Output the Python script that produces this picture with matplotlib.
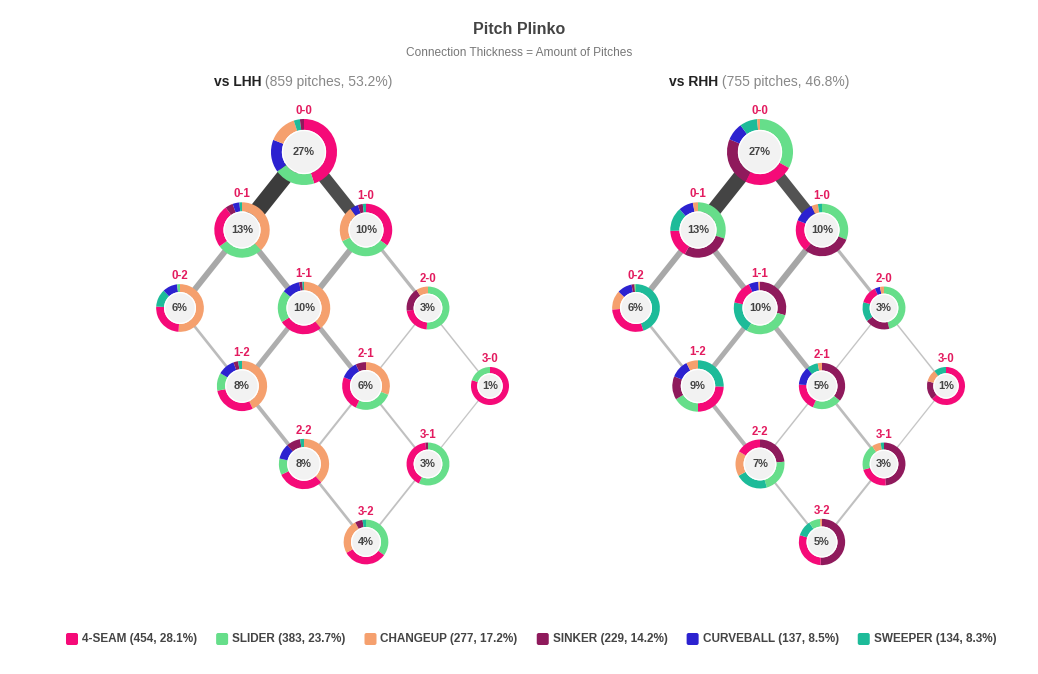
import matplotlib
matplotlib.use("Agg")
import matplotlib.pyplot as plt
from matplotlib.patches import Wedge, Circle, FancyBboxPatch
import numpy as np

plt.rcParams['font.family'] = ['Liberation Sans', 'DejaVu Sans']

# ---------------- data ----------------
pitch_types = ["4-SEAM", "SLIDER", "CHANGEUP", "SINKER", "CURVEBALL", "SWEEPER"]
pitch_counts = [454, 383, 277, 229, 137, 134]
pitch_pcts = [28.1, 23.7, 17.2, 14.2, 8.5, 8.3]
pitch_colors = ["#f50a78", "#66de8a", "#f5a06e", "#8f1a5c", "#2c22d0", "#1dbb99"]

ball_strike_counts = ["0-0", "0-1", "1-0", "0-2", "1-1", "2-0",
                      "1-2", "2-1", "3-0", "2-2", "3-1", "3-2"]

panel_names = ["vs LHH", "vs RHH"]
panel_pitches = [859, 755]
panel_shares = [53.2, 46.8]

lhh_node_pct = [27, 13, 10, 6, 10, 3, 8, 6, 1, 8, 3, 4]
rhh_node_pct = [27, 13, 10, 6, 10, 3, 9, 5, 1, 7, 3, 5]

# pitch mix per count, values in pitch_types order (percent of pitches in that count)
lhh_mix = {
    "0-0": [45, 20, 14, 2, 16, 3],
    "0-1": [25, 27, 38, 4.5, 4, 1.5],
    "1-0": [35, 33, 22, 3, 5, 2],
    "0-2": [25, 2, 51, 0, 10, 12],
    "1-1": [27, 20, 39, 2, 11, 1],
    "2-0": [22, 51, 9, 18, 0, 0],
    "1-2": [29, 11.5, 43, 3, 11, 2.5],
    "2-1": [24, 26, 31, 7, 12, 0],
    "3-0": [80, 20, 0, 0, 0, 0],
    "2-2": [30, 10.5, 38, 9, 10, 2.5],
    "3-1": [41, 57, 0, 2, 0, 0],
    "3-2": [32, 35, 25, 5.5, 0, 2.5],
}
rhh_mix = {
    "0-0": [24.2, 33, 1.4, 24, 8.7, 8.6],
    "0-1": [16.5, 30, 3, 28, 8.5, 14],
    "1-0": [20, 31, 4, 30, 12.5, 2.5],
    "0-2": [29, 1, 13, 2, 10, 45],
    "1-1": [14.6, 29, 1, 29.5, 6, 20],
    "2-0": [13.6, 46, 3, 18.6, 4, 14.7],
    "1-2": [24.5, 16.4, 7.4, 14.7, 11.5, 25.5],
    "2-1": [19.5, 20.5, 3, 36, 13, 8],
    "3-0": [63, 0, 10.6, 16, 0, 10.4],
    "2-2": [16.4, 22, 16.6, 23.5, 0, 21.5],
    "3-1": [22, 20, 6.8, 48.7, 0, 2.5],
    "3-2": [28.6, 7.8, 1.4, 51, 0, 11],
}

edge_pairs = [("0-0", "0-1"), ("0-0", "1-0"), ("0-1", "0-2"), ("0-1", "1-1"),
              ("1-0", "1-1"), ("1-0", "2-0"), ("0-2", "1-2"), ("1-1", "1-2"),
              ("1-1", "2-1"), ("2-0", "2-1"), ("2-0", "3-0"), ("1-2", "2-2"),
              ("2-1", "2-2"), ("2-1", "3-1"), ("3-0", "3-1"), ("2-2", "3-2"),
              ("3-1", "3-2")]
lhh_edge_counts = [112, 86, 40, 40, 40, 22, 18, 34, 34, 10, 10, 26, 14, 14, 7, 18, 12]
rhh_edge_counts = [100, 78, 40, 40, 42, 22, 18, 34, 34, 9, 10, 28, 10, 18, 7, 14, 14]

# ---------------- layout ----------------
W, H = 1038, 674
fig = plt.figure(figsize=(W / 100, H / 100), dpi=100)
ax = fig.add_axes([0, 0, 1, 1])
ax.set_xlim(0, W)
ax.set_ylim(H, 0)
ax.axis('off')
PT = 0.72  # points per pixel

panel_cx = [304, 760]
top_y = 152
dx_step, dy_step = 62, 78
label_color = "#e31b5f"

def node_xy(cx, cnt):
    b, s = map(int, cnt.split("-"))
    return cx + (b - s) * dx_step, top_y + (b + s) * dy_step

def radius(pct):
    return 15.66 + 3.34 * np.sqrt(pct)

def edge_gray(f):
    if f >= 0.6:
        g = 0x3c + (1 - f) / 0.4 * (0x5a - 0x3c)
    else:
        g = max(0xa5, 0xcc - f / 0.36 * (0xcc - 0xa8))
    g = int(round(g)) / 255
    return (g, g, g)

max_edge = max(max(lhh_edge_counts), max(rhh_edge_counts))
node_pcts = [lhh_node_pct, rhh_node_pct]
mixes = [lhh_mix, rhh_mix]
edge_counts = [lhh_edge_counts, rhh_edge_counts]

fig.canvas.draw()
renderer = fig.canvas.get_renderer()

for p in range(2):
    cx = panel_cx[p]
    # edges
    for (a, b), c in zip(edge_pairs, edge_counts[p]):
        x1, y1 = node_xy(cx, a)
        x2, y2 = node_xy(cx, b)
        f = c / max_edge
        w = max(1.3, 16.5 * f)
        ax.plot([x1, x2], [y1, y2], color=edge_gray(f), lw=w * PT,
                solid_capstyle='butt', zorder=1)
    # nodes
    for cnt, pct in zip(ball_strike_counts, node_pcts[p]):
        x, y = node_xy(cx, cnt)
        r = radius(pct)
        rin = 0.67 * r
        vals = np.array(mixes[p][cnt], dtype=float)
        vals = vals / vals.sum()
        order = sorted(range(len(vals)), key=lambda i: -vals[i])
        theta = 270.0
        for i in order:
            if vals[i] <= 0:
                continue
            t2 = theta + vals[i] * 360
            ax.add_patch(Wedge((x, y), r, theta, t2, width=r - rin,
                               facecolor=pitch_colors[i], edgecolor='none', zorder=3))
            theta = t2
        ax.add_patch(Circle((x, y), rin, facecolor='white', edgecolor='none', zorder=4))
        ax.add_patch(Circle((x, y), rin - 1.3, facecolor='#f2f2f2', edgecolor='none', zorder=5))
        ax.text(x, y, f"{pct}%", ha='center', va='center', fontsize=7.9,
                fontweight='bold', color='#444444', zorder=6)
        ax.text(x, y - r - 8, cnt, ha='center', va='center', fontsize=8.3,
                fontweight='bold', color=label_color, zorder=6)
    # panel title
    t1 = ax.text(0, 82, panel_names[p], ha='left', va='center', fontsize=10,
                 fontweight='bold', color='#222222')
    t2 = ax.text(0, 82, f" ({panel_pitches[p]} pitches, {panel_shares[p]}%)",
                 ha='left', va='center', fontsize=10, color='#888888')
    w1 = t1.get_window_extent(renderer).width
    w2 = t2.get_window_extent(renderer).width
    x0 = cx - 1 - (w1 + w2) / 2
    t1.set_x(x0)
    t2.set_x(x0 + w1)

# titles
ax.text(W / 2, 30, "Pitch Plinko", ha='center', va='center', fontsize=11.5,
        fontweight='bold', color='#444444')
ax.text(W / 2, 52.5, "Connection Thickness = Amount of Pitches", ha='center',
        va='center', fontsize=8.6, color='#777777')

# legend
lx = 66
ly = 639
for name, n, pc, col in zip(pitch_types, pitch_counts, pitch_pcts, pitch_colors):
    ax.add_patch(FancyBboxPatch((lx, ly - 6), 12, 12,
                                boxstyle="round,pad=0,rounding_size=2",
                                facecolor=col, edgecolor='none'))
    t = ax.text(lx + 16, ly, f"{name} ({n}, {pc}%)", ha='left', va='center',
                fontsize=8.5, fontweight='bold', color='#444444')
    tw = t.get_window_extent(renderer).width
    lx = lx + 16 + tw + 19

fig.savefig("out.png", dpi=100, facecolor='white')
